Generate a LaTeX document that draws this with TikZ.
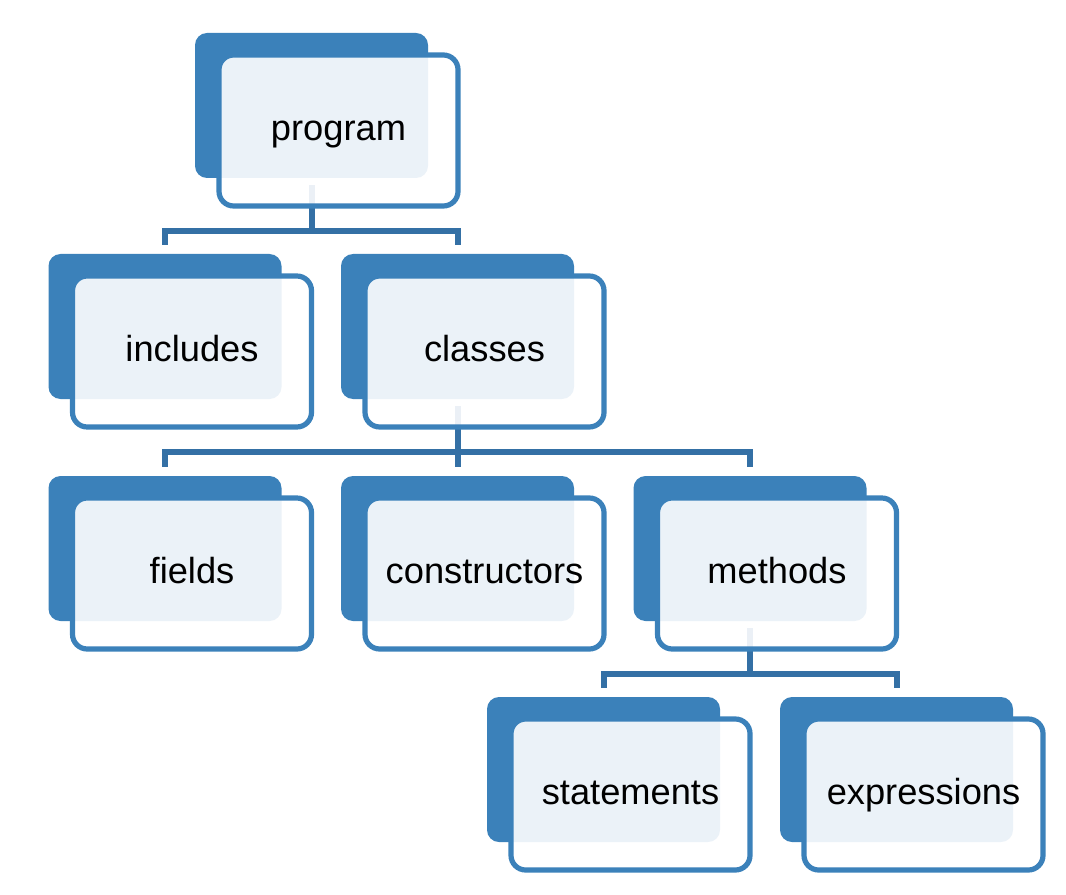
\documentclass[tikz,border=0pt]{standalone}
\usepackage{fontspec}
\setmainfont{Liberation Sans}
\usepackage{tikz}
\pgfdeclarelayer{background}
\pgfsetlayers{background,main}
\usetikzlibrary{positioning}
\definecolor{blockblue}{HTML}{3B81BA}
\definecolor{linkblue}{HTML}{3470A5}
\tikzset{
  backbox/.style={rectangle,rounded corners=9pt,fill=blockblue,draw=none,
    minimum width=174.75pt,minimum height=108.75pt,inner sep=0},
  frontbox/.style={rectangle,rounded corners=11pt,draw=blockblue,line width=3.9pt,
    fill=white,fill opacity=0.9,draw opacity=1,text opacity=1,
    minimum width=179.25pt,minimum height=113.25pt,inner sep=0,
    text height=20pt,text depth=5pt,
    font=\fontsize{27.2}{32}\selectfont},
  link/.style={draw=linkblue,line width=4.5pt}
}
\newcommand{\Block}[3]% pos, name, text
{\node[backbox] (#2-b) at (#1) {};
  \node[frontbox] (#2) at ([xshift=20.25pt,yshift=-18.75pt]#2-b.center) {#3};
}
\newcommand{\Stem}[1]%
{ \begin{pgfonlayer}{background}
    \draw[link] ([yshift=-5.25pt]#1-b.south) -- ([yshift=-39.75pt]#1-b.south);
  \end{pgfonlayer}
}
\newcommand{\Link}[2]%
{ \begin{pgfonlayer}{background}
    \draw[link] ([yshift=-39.75pt]#1-b.south) -| ([yshift=6.75pt]#2-b.north);
  \end{pgfonlayer}}

\begin{document}
\begin{tikzpicture}[x=0.75pt,y=0.75pt]
      \useasboundingbox (0,0) rectangle (1066,894);
      \Block{311.5, 788.5}{prog}{program}
      \Block{165, 567.5}{incl}{includes}
      \Block{457.5, 567.5}{cls}{classes}
      \Block{165, 345.5}{fld}{fields}
      \Block{457.5, 345.5}{ctor}{constructors}
      \Block{750, 345.5}{meth}{methods}
      \Block{603.5, 124.5}{stmt}{statements}
      \Block{896.5, 124.5}{expr}{expressions}
      \Stem{prog}
      \Link{prog}{incl}
      \Link{prog}{cls}
      \Stem{cls}
      \Link{cls}{fld}
      \Link{cls}{ctor}
      \Link{cls}{meth}
      \Stem{meth}
      \Link{meth}{stmt}
      \Link{meth}{expr}
    \end{tikzpicture}
\end{document}
